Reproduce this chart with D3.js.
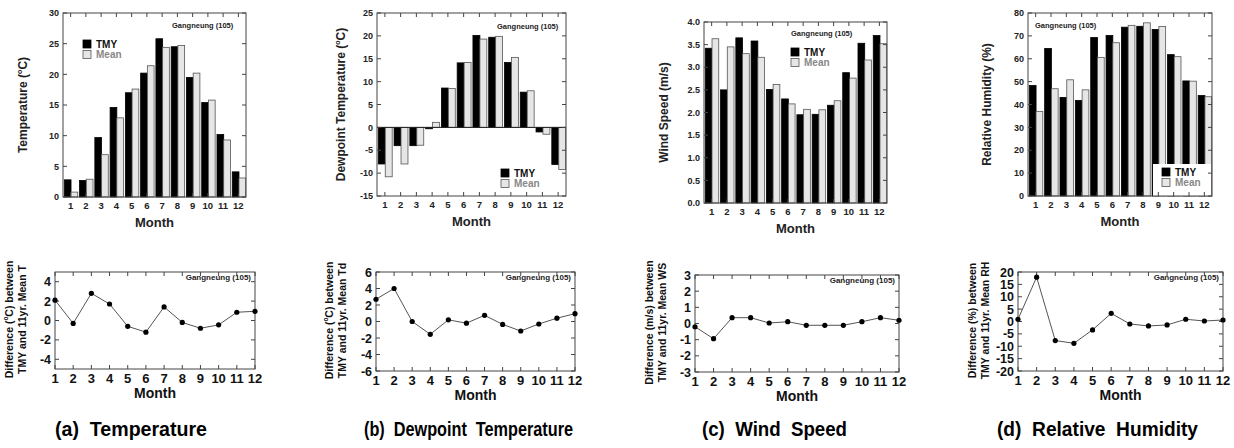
<!DOCTYPE html>
<html><head><meta charset="utf-8">
<script src="https://cdn.jsdelivr.net/npm/d3@7"></script>
<style>
body{margin:0;background:#fff;}
text{font-family:"Liberation Sans",Arial,sans-serif;font-weight:bold;}
</style></head>
<body>
<svg id="c" width="1234" height="448"></svg>
<script>
const months = [1,2,3,4,5,6,7,8,9,10,11,12];
const station = "Gangneung (105)";

const tempTMY  = [2.8, 2.7, 9.7, 14.6, 17.0, 20.2, 25.8, 24.5, 19.5, 15.4, 10.2, 4.1];
const tempMean = [0.8, 2.9, 6.9, 12.9, 17.6, 21.4, 24.4, 24.7, 20.2, 15.8, 9.3, 3.1];
const tempDiff = [2.1, -0.3, 2.8, 1.7, -0.6, -1.2, 1.4, -0.2, -0.8, -0.45, 0.85, 0.95];

const dewTMY  = [-8.0, -4.0, -4.0, -0.3, 8.6, 14.1, 20.1, 19.7, 14.2, 7.7, -1.0, -8.1];
const dewMean = [-10.8, -8.0, -3.9, 1.1, 8.5, 14.2, 19.3, 19.9, 15.3, 8.0, -1.5, -9.2];
const dewDiff = [2.7, 4.0, 0.0, -1.55, 0.2, -0.2, 0.75, -0.35, -1.15, -0.3, 0.4, 0.95];

const wsTMY  = [3.42, 2.50, 3.65, 3.58, 2.51, 2.30, 1.95, 1.96, 2.16, 2.88, 3.53, 3.70];
const wsMean = [3.63, 3.45, 3.30, 3.22, 2.62, 2.19, 2.07, 2.06, 2.26, 2.76, 3.16, 3.52];
const wsDiff = [-0.2, -0.94, 0.36, 0.36, 0.03, 0.11, -0.11, -0.11, -0.11, 0.11, 0.36, 0.2];

const rhTMY  = [48.3, 64.5, 43.1, 41.8, 69.3, 70.2, 73.8, 74.2, 72.8, 61.8, 50.3, 43.9];
const rhMean = [37.0, 46.9, 50.8, 46.4, 60.6, 67.0, 74.6, 75.7, 74.1, 60.9, 50.2, 43.4];
const rhDiff = [0.9, 17.9, -7.7, -8.8, -3.4, 3.3, -1.0, -1.8, -1.4, 0.9, 0.2, 0.6];

const tempTicks = [0,5,10,15,20,25,30];
const dewTicks = [-15,-10,-5,0,5,10,15,20,25];
const wsTicks = [0,0.5,1,1.5,2,2.5,3,3.5,4];
const rhTicks = [0,10,20,30,40,50,60,70,80];
const tempDiffTicks = [-4,-2,0,2,4];
const dewDiffTicks = [-6,-4,-2,0,2,4,6];
const wsDiffTicks = [-3,-2,-1,0,1,2,3];
const rhDiffTicks = [-20,-15,-10,-5,0,5,10,15,20];

const captions = ["(a)  Temperature","(b)  Dewpoint  Temperature","(c)  Wind  Speed","(d)  Relative  Humidity"];

const svg = d3.select("#c");
const FRAME = "#444";

function barPanel(o){
  const g = svg.append("g");
  const x = d3.scaleBand().domain(months).range([o.l+1,o.r]).paddingInner(0.12).paddingOuter(0.02);
  const x1 = d3.scaleBand().domain(["TMY","Mean"]).range([0,x.bandwidth()]);
  const y = d3.scaleLinear().domain(o.domain).range([o.b,o.t]);
  const mc = d3.scalePoint().domain(months).range([o.l,o.r]).padding(0.5);
  months.forEach((m,i)=>{
    [["TMY",o.tmy[i]],["Mean",o.mean[i]]].forEach(([k,v])=>{
      g.append("rect").attr("x",x(m)+x1(k)).attr("width",x1.bandwidth())
        .attr("y",Math.min(y(v),y(0))).attr("height",Math.abs(y(v)-y(0)))
        .attr("fill",k==="TMY"?"#000":"#e6e6e6").attr("stroke",k==="TMY"?"#000":"#555").attr("stroke-width",0.8);
    });
  });
  if(o.domain[0]<0) g.append("line").attr("x1",o.l).attr("x2",o.r).attr("y1",y(0)).attr("y2",y(0)).attr("stroke","#222");
  if(o.legBox) g.append("rect").attr("x",o.legBox[0]).attr("y",o.legBox[1]).attr("width",o.legBox[2]).attr("height",o.legBox[3]).attr("fill","#fff");
  [["TMY","#000","#000","#111"],["Mean","#e6e6e6","#555","#888"]].forEach((d,i)=>{
    const yy = o.leg[1]+i*10.5;
    g.append("rect").attr("x",o.leg[0]).attr("y",yy).attr("width",8).attr("height",8).attr("fill",d[1]).attr("stroke",d[2]).attr("stroke-width",0.8);
    g.append("text").attr("x",o.leg[0]+13).attr("y",yy+7.5).attr("font-size",10).attr("fill",d[3]).text(d[0]);
  });
  g.append("rect").attr("x",o.l).attr("y",o.t).attr("width",o.r-o.l).attr("height",o.b-o.t).attr("fill","none").attr("stroke",FRAME);
  const tl = 4;
  o.ticks.forEach(v=>{
    g.append("line").attr("x1",o.l).attr("x2",o.l+tl).attr("y1",y(v)).attr("y2",y(v)).attr("stroke",FRAME);
    g.append("line").attr("x1",o.r).attr("x2",o.r-tl).attr("y1",y(v)).attr("y2",y(v)).attr("stroke",FRAME);
    g.append("text").attr("x",o.l-4).attr("y",y(v)+3.2).attr("text-anchor","end").attr("font-size",9).attr("fill","#222").text(o.fmt?o.fmt(v):v);
  });
  months.forEach(m=>{
    g.append("line").attr("x1",mc(m)).attr("x2",mc(m)).attr("y1",o.t).attr("y2",o.t+tl).attr("stroke",FRAME);
    g.append("line").attr("x1",mc(m)).attr("x2",mc(m)).attr("y1",o.b).attr("y2",o.b-tl).attr("stroke",FRAME);
    g.append("text").attr("x",mc(m)).attr("y",o.b+12).attr("text-anchor","middle").attr("font-size",9.5).attr("fill","#222").text(m);
  });
  g.append("text").attr("x",(o.l+o.r)/2).attr("y",o.b+30).attr("text-anchor","middle").attr("font-size",13).attr("fill","#222").text("Month");
  const yt = g.append("text").attr("transform",`translate(${o.yt},${(o.t+o.b)/2}) rotate(-90)`).attr("text-anchor","middle").attr("font-size",12).attr("fill","#222");
  o.ytitle(yt);
  g.append("text").attr("x",o.ann[0]).attr("y",o.ann[1]).attr("font-size",7.5).attr("fill","#222").text(station);
}

function linePanel(o){
  const g = svg.append("g");
  const x = d3.scaleLinear().domain([1,12]).range([o.l,o.r]);
  const y = d3.scaleLinear().domain(o.domain).range([o.b,o.t]);
  g.append("rect").attr("x",o.l).attr("y",o.t).attr("width",o.r-o.l).attr("height",o.b-o.t).attr("fill","none").attr("stroke",FRAME);
  const tl = 4;
  o.ticks.forEach(v=>{
    g.append("line").attr("x1",o.l).attr("x2",o.l+tl).attr("y1",y(v)).attr("y2",y(v)).attr("stroke",FRAME);
    g.append("line").attr("x1",o.r).attr("x2",o.r-tl).attr("y1",y(v)).attr("y2",y(v)).attr("stroke",FRAME);
    g.append("text").attr("x",o.l-4).attr("y",y(v)+4.5).attr("text-anchor","end").attr("font-size",12.5).attr("fill","#111").text(v);
  });
  months.forEach(m=>{
    g.append("line").attr("x1",x(m)).attr("x2",x(m)).attr("y1",o.t).attr("y2",o.t+tl).attr("stroke",FRAME);
    g.append("line").attr("x1",x(m)).attr("x2",x(m)).attr("y1",o.b).attr("y2",o.b-tl).attr("stroke",FRAME);
    g.append("text").attr("x",x(m)).attr("y",o.b+13.5).attr("text-anchor","middle").attr("font-size",13).attr("fill","#111").text(m);
  });
  const line = d3.line().x((d,i)=>x(months[i])).y(d=>y(d));
  g.append("path").attr("d",line(o.vals)).attr("fill","none").attr("stroke","#555").attr("stroke-width",1);
  o.vals.forEach((v,i)=>g.append("circle").attr("cx",x(months[i])).attr("cy",y(v)).attr("r",2.6).attr("fill","#000"));
  g.append("text").attr("x",(o.l+o.r)/2).attr("y",o.b+28.5).attr("text-anchor","middle").attr("font-size",14).attr("fill","#111").text("Month");
  g.append("text").attr("x",o.r-4).attr("y",o.t+8).attr("text-anchor","end").attr("font-size",8).attr("fill","#222").text(station);
  const cy = (o.t+o.b)/2 - 1;
  const t1 = g.append("text").attr("transform",`translate(${o.yt},${cy}) rotate(-90)`).attr("text-anchor","middle").attr("font-size",10.5).attr("fill","#111");
  o.yt1(t1);
  g.append("text").attr("transform",`translate(${o.yt+12.5},${cy}) rotate(-90)`).attr("text-anchor","middle").attr("font-size",10.5).attr("fill","#111").text(o.yt2);
}

function supTitle(pre,unit,post){
  return t=>{ t.append("tspan").text(pre+"(");
    t.append("tspan").attr("font-size","0.6em").attr("dy",-5).text("o");
    t.append("tspan").attr("dy",5).text(unit+")"+post); };
}

barPanel({l:63,r:246,t:13,b:197,domain:[0,30],ticks:tempTicks,tmy:tempTMY,mean:tempMean,
  leg:[83,40],ann:[172,28],yt:27,ytitle:supTitle("Temperature ","C","")});
barPanel({l:377,r:566,t:13,b:196,domain:[-15,25],ticks:dewTicks,tmy:dewTMY,mean:dewMean,
  leg:[501,169],ann:[497,29],yt:345,ytitle:supTitle("Dewpoint Temperature ","C","")});
barPanel({l:704,r:887,t:22,b:203,domain:[0,4],ticks:wsTicks,tmy:wsTMY,mean:wsMean,fmt:d3.format(".1f"),
  leg:[791,48],ann:[791,36],yt:668,ytitle:t=>t.text("Wind Speed (m/s)")});
barPanel({l:1028,r:1212,t:13,b:196,domain:[0,80],ticks:rhTicks,tmy:rhTMY,mean:rhMean,
  leg:[1162,168],legBox:[1153,164,58,32],ann:[1035,28],yt:991,ytitle:t=>t.text("Relative Humidity (%)")});

linePanel({l:55,r:255,t:272,b:369,domain:[-5,5],ticks:tempDiffTicks,vals:tempDiff,yt:13,
  yt1:supTitle("Difference ","C"," between"),yt2:"TMY and 11yr. Mean T"});
linePanel({l:376,r:575,t:272,b:371,domain:[-6,6],ticks:dewDiffTicks,vals:dewDiff,yt:333,
  yt1:supTitle("Difference ","C"," between"),yt2:"TMY and 11yr. Mean Td"});
linePanel({l:695,r:899,t:275,b:372,domain:[-3,3],ticks:wsDiffTicks,vals:wsDiff,yt:653,
  yt1:t=>t.text("Difference (m/s) between"),yt2:"TMY and 11yr. Mean WS"});
linePanel({l:1018,r:1223,t:272,b:371,domain:[-20,20],ticks:rhDiffTicks,vals:rhDiff,yt:976,
  yt1:t=>t.text("Difference (%) between"),yt2:"TMY and 11yr. Mean RH"});

const capX = [55,364,702,997];
const capW = [152,209,145,201];
captions.forEach((c,i)=>svg.append("text").attr("x",capX[i]).attr("y",436).attr("font-size",21)
  .attr("font-family","'DejaVu Sans Condensed','DejaVu Sans',sans-serif").attr("fill","#000")
  .attr("textLength",capW[i]).attr("lengthAdjust","spacingAndGlyphs")
  .style("white-space","pre").text(c));
</script>
</body></html>
